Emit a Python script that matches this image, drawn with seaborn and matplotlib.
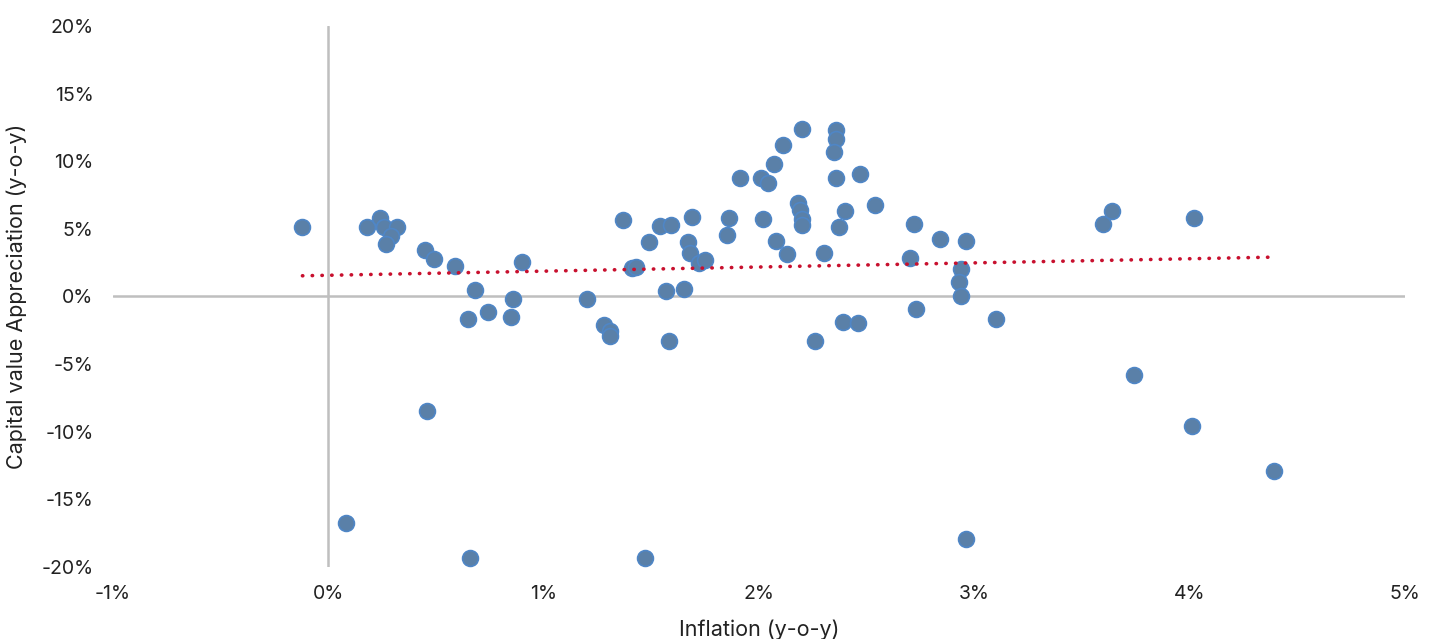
import numpy as np
import pandas as pd
import seaborn as sns
import matplotlib.pyplot as plt

# inflation (y-o-y, %) and capital value appreciation (y-o-y, %)
inflation = [-0.12, 0.08, 0.18, 0.24, 0.26, 0.32, 0.29, 0.27, 0.45, 0.49, 0.59, 0.90,
             0.68, 0.86, 0.74, 0.65, 0.85, 0.46, 0.66,
             1.37, 1.54, 1.59, 1.69, 1.86, 2.02, 1.85, 1.49, 1.67, 1.68, 1.72, 1.75,
             1.41, 1.43, 1.20, 1.57, 1.65, 1.28, 1.31, 1.31, 1.58, 2.08, 1.47,
             2.20, 2.36, 2.36, 2.35, 2.11, 2.07, 1.91, 2.01, 2.04, 2.36, 2.47,
             2.18, 2.19, 2.20, 2.20, 2.40, 2.54, 2.37, 2.72, 2.13, 2.30, 2.70,
             2.39, 2.46, 2.26, 2.73,
             2.84, 2.96, 2.94, 2.93, 2.94, 3.10, 2.96,
             3.60, 3.64, 4.02, 3.74, 4.01, 4.39]
capital = [5.17, -16.75, 5.11, 5.83, 5.11, 5.11, 4.50, 3.89, 3.45, 2.78, 2.27, 2.53,
           0.49, -0.17, -1.11, -1.68, -1.48, -8.49, -19.34,
           5.68, 5.19, 5.29, 5.90, 5.81, 5.76, 4.52, 4.04, 4.01, 3.20, 2.44, 2.73,
           2.09, 2.21, -0.22, 0.42, 0.57, -2.14, -2.56, -2.93, -3.32, 4.13, -19.34,
           12.42, 12.30, 11.64, 10.65, 11.17, 9.82, 8.78, 8.76, 8.41, 8.78, 9.03,
           6.92, 6.42, 5.76, 5.26, 6.35, 6.74, 5.14, 5.39, 3.17, 3.20, 2.86,
           -1.85, -1.94, -3.30, -0.91,
           4.23, 4.08, 2.04, 1.08, 0.05, -1.70, -17.93,
           5.39, 6.35, 5.83, -5.83, -9.59, -12.92]

df = pd.DataFrame({'inflation': inflation, 'capital': capital})

x_ticks = [-1, 0, 1, 2, 3, 4, 5]
y_ticks = [-20, -15, -10, -5, 0, 5, 10, 15, 20]

sns.set_style('white')
plt.rcParams['font.family'] = ['Inter', 'DejaVu Sans']

fig = plt.figure(figsize=(14.37, 6.39), dpi=100)
ax = fig.add_axes([0.0786, 0.1127, 0.8991, 0.8466])

grey = '#BFBFBF'
ax.axhline(0, color=grey, lw=1.8, zorder=1)
ax.axvline(0, color=grey, lw=1.8, zorder=1)

sns.scatterplot(data=df, x='inflation', y='capital', ax=ax, s=130,
                color='#5A80A8', edgecolor='#4F86C6', linewidth=1.2, zorder=3)
sns.regplot(data=df, x='inflation', y='capital', ax=ax, scatter=False, ci=None,
            line_kws=dict(color='#C8102E', lw=2.6, linestyle=(0, (0.1, 2.6)),
                          dash_capstyle='round', zorder=4))

ax.set_xlim(-1, 5)
ax.set_ylim(-20, 20)
ax.set_xticks(x_ticks)
ax.set_yticks(y_ticks)
ax.set_xticklabels([f'{t}%' for t in x_ticks])
ax.set_yticklabels([f'{t}%' for t in y_ticks])
ax.tick_params(axis='both', length=0, labelsize=14, colors='#222222')
ax.tick_params(axis='y', pad=14)
ax.tick_params(axis='x', pad=13)
for sp in ax.spines.values():
    sp.set_visible(False)

ax.set_xlabel('Inflation (y-o-y)', fontsize=15.5, color='#222222', labelpad=12)
ax.set_ylabel('Capital value Appreciation (y-o-y)', fontsize=15.5, color='#222222', labelpad=10)

fig.savefig('out.png', dpi=100)
